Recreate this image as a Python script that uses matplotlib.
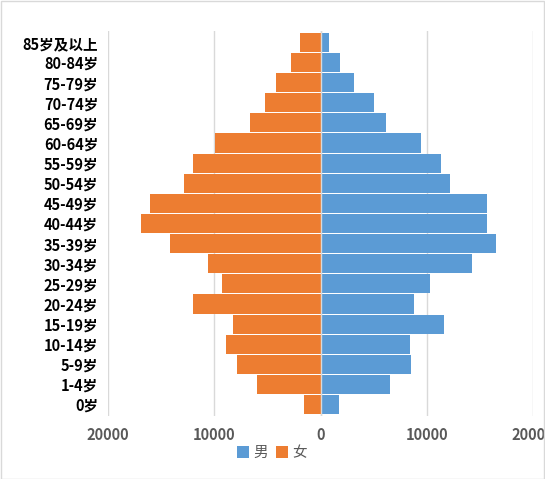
import matplotlib
matplotlib.use("Agg")
import matplotlib.pyplot as plt
from matplotlib.patches import Rectangle
import numpy as np

plt.rcParams['font.family'] = ['Noto Sans CJK SC', 'DejaVu Sans']

categories = ["0岁", "1-4岁", "5-9岁", "10-14岁", "15-19岁", "20-24岁", "25-29岁",
              "30-34岁", "35-39岁", "40-44岁", "45-49岁", "50-54岁", "55-59岁",
              "60-64岁", "65-69岁", "70-74岁", "75-79岁", "80-84岁", "85岁及以上"]
male = [1750, 6510, 8480, 8380, 11650, 8760, 10350, 14270, 16510, 15670, 15670,
        12210, 11370, 9500, 6140, 5020, 3150, 1840, 810]
female = [1520, 6010, 7880, 8910, 8250, 11990, 9280, 10590, 14140, 16850, 16010,
          12830, 11990, 9930, 6660, 5260, 4230, 2740, 1900]
xticks = [-20000, -10000, 0, 10000, 20000]
xticklabels = ["20000", "10000", "0", "10000", "20000"]

BLUE = "#5B9BD5"
ORANGE = "#ED7D31"
GRID = "#D9D9D9"

fig = plt.figure(figsize=(5.45, 4.79), dpi=100)
ax = fig.add_axes([108/545, 1-416/479, (533-108)/545, (416-31)/479])

y = np.arange(len(categories))
ax.barh(y, male, height=0.95, color=BLUE, label="男", zorder=2)
ax.barh(y, [-v for v in female], height=0.95, color=ORANGE, label="女", zorder=2)
ax.axvline(0, color=GRID, lw=1, zorder=3)

ax.set_xlim(-20000, 20000)
ax.set_ylim(-0.57, len(categories) - 0.43)
ax.set_xticks(xticks)
ax.set_xticklabels(xticklabels, fontsize=10.5, fontweight='heavy', color="#595959")
ax.set_yticks(y)
ax.set_yticklabels(categories, fontsize=10.5, fontweight='heavy', color="black")
ax.tick_params(axis='both', length=0)
ax.tick_params(axis='y', pad=7)
ax.tick_params(axis='x', pad=8)
ax.grid(axis='x', color=GRID, lw=1, zorder=0)
ax.set_axisbelow(True)
for s in ax.spines.values():
    s.set_visible(False)

leg = ax.legend(loc='center', bbox_to_anchor=(272/545, 1-453/479),
                bbox_transform=fig.transFigure, ncol=2, frameon=False,
                handlelength=0.8, handleheight=0.8, handletextpad=0.3,
                columnspacing=0.6, fontsize=10.5)
for t in leg.get_texts():
    t.set_color("#595959")

fig.patches.append(Rectangle((0.5/545, 0.5/479), 1-1.5/545, 1-1.5/479,
                             transform=fig.transFigure, fill=False,
                             edgecolor="#D9D9D9", lw=1))

fig.savefig("out.png", dpi=100)
